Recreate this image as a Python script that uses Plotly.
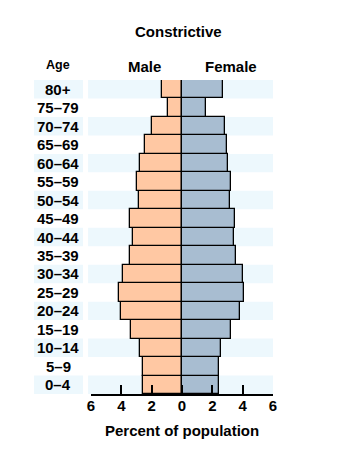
import plotly.graph_objects as go

ages = ["0–4", "5–9", "10–14", "15–19", "20–24", "25–29", "30–34", "35–39",
        "40–44", "45–49", "50–54", "55–59", "60–64", "65–69", "70–74", "75–79", "80+"]
male = [2.55, 2.55, 2.8, 3.35, 4.0, 4.15, 3.9, 3.45, 3.2, 3.4, 2.85, 2.95, 2.75, 2.45, 2.0, 0.9, 1.3]
female = [2.45, 2.45, 2.55, 3.2, 3.85, 4.1, 4.0, 3.55, 3.4, 3.5, 3.15, 3.25, 3.05, 2.95, 2.85, 1.6, 2.7]
tick_vals = [-6, -4, -2, 0, 2, 4, 6]
tick_text = ["6", "4", "2", "0", "2", "4", "6"]

FONT = "Liberation Sans, Arial, sans-serif"
MALE_C = "#FFC8A3"
FEMALE_C = "#A8BDD1"
STRIPE = "#EDF8FD"

fig = go.Figure()
fig.add_trace(go.Bar(y=ages, x=[-v for v in male], orientation="h", width=1,
                     marker=dict(color=MALE_C, line=dict(color="black", width=1.3)),
                     name="Male", showlegend=False))
fig.add_trace(go.Bar(y=ages, x=female, orientation="h", width=1,
                     marker=dict(color=FEMALE_C, line=dict(color="black", width=1.3)),
                     name="Female", showlegend=False))

shapes = []
annotations = []
for i, a in enumerate(ages):
    if i % 2 == 0:
        shapes.append(dict(type="rect", xref="paper", yref="y", x0=-0.016, x1=1.0,
                           y0=i - 0.5, y1=i + 0.5, fillcolor=STRIPE, line=dict(width=0),
                           layer="below"))
        shapes.append(dict(type="rect", xref="paper", yref="y", x0=-0.313, x1=-0.044,
                           y0=i - 0.5, y1=i + 0.5, fillcolor=STRIPE, line=dict(width=0),
                           layer="below"))
    annotations.append(dict(text=f"<b>{a}</b>", xref="paper", yref="y", x=-0.179, y=i,
                            xanchor="center", yanchor="middle", showarrow=False,
                            font=dict(family=FONT, size=15, color="black")))

annotations += [
    dict(text="<b>Constrictive</b>", xref="paper", yref="paper", x=0.48, y=1.0,
         yshift=49, xanchor="center", yanchor="middle", showarrow=False,
         font=dict(family=FONT, size=15, color="black")),
    dict(text="<b>Age</b>", xref="paper", yref="paper", x=-0.179, y=1.0,
         yshift=15, xanchor="center", yanchor="middle", showarrow=False,
         font=dict(family=FONT, size=12.5, color="black")),
    dict(text="<b>Male</b>", xref="x", yref="paper", x=-2.5, y=1.0,
         yshift=14, xanchor="center", yanchor="middle", showarrow=False,
         font=dict(family=FONT, size=15, color="black")),
    dict(text="<b>Female</b>", xref="x", yref="paper", x=3.2, y=1.0,
         yshift=14, xanchor="center", yanchor="middle", showarrow=False,
         font=dict(family=FONT, size=15, color="black")),
    dict(text="<b>Percent of population</b>", xref="paper", yref="paper", x=0.5, y=0,
         yshift=-36, xanchor="center", yanchor="middle", showarrow=False,
         font=dict(family=FONT, size=15, color="black")),
]

fig.update_layout(
    width=337, height=458,
    margin=dict(l=91, r=64, t=80, b=64),
    paper_bgcolor="white", plot_bgcolor="white",
    barmode="relative", bargap=0,
    shapes=shapes, annotations=annotations,
    xaxis=dict(range=[-6, 6], tickvals=tick_vals, ticktext=tick_text,
               showgrid=False, zeroline=False, showline=True, linecolor="black",
               linewidth=1.5, ticks="inside", ticklen=9, tickwidth=1.5, tickcolor="black",
               tickfont=dict(family=FONT, size=15, color="black", weight="bold"),
               ticklabelstandoff=-3, fixedrange=True),
    yaxis=dict(categoryorder="array", categoryarray=ages, range=[-0.5, 16.5],
               showticklabels=False, showgrid=False, zeroline=False, showline=False,
               ticks="", fixedrange=True),
)

fig.write_html("out.html")
